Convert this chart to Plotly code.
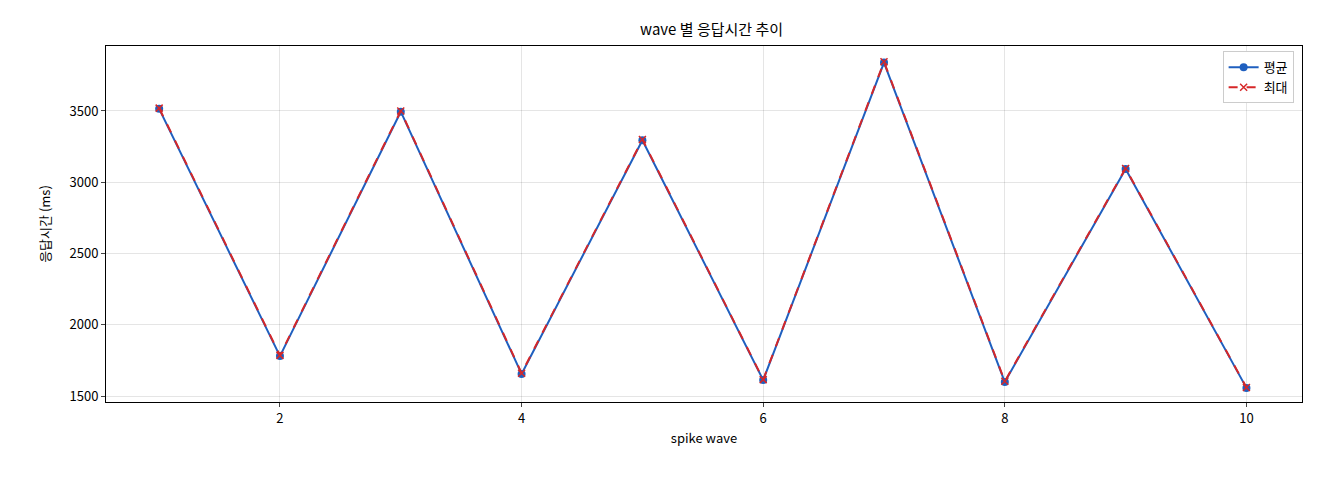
import plotly.graph_objects as go

waves = [1, 2, 3, 4, 5, 6, 7, 8, 9, 10]
avg_ms = [3515, 1780, 3495, 1655, 3295, 1612, 3840, 1598, 3093, 1557]
max_ms = [3520, 1785, 3500, 1660, 3300, 1615, 3845, 1603, 3097, 1560]

fig = go.Figure()
fig.add_trace(go.Scatter(x=waves, y=avg_ms, name="평균", mode="lines+markers",
                         line=dict(color="#1f5fbf", width=2), marker=dict(size=8, color="#1f5fbf")))
fig.add_trace(go.Scatter(x=waves, y=max_ms, name="최대", mode="lines+markers",
                         line=dict(color="#d62728", width=2, dash="dash"),
                         marker=dict(symbol="x-thin", size=7, color="#d62728", line=dict(width=1.5, color="#d62728"))))
ax = dict(showline=True, linecolor="black", mirror=True, ticks="outside", ticklen=4,
          gridcolor="rgba(0,0,0,0.1)", zeroline=False, tickfont=dict(size=13))
fig.update_layout(
    width=1320, height=480, plot_bgcolor="white", paper_bgcolor="white",
    font=dict(family="Noto Sans CJK KR, sans-serif", color="black", size=13),
    title=dict(text="wave 별 응답시간 추이", x=0.533, xanchor="center", y=0.955, yanchor="middle", font=dict(size=15)),
    margin=dict(l=98, r=26, t=38, b=86),
    xaxis=dict(ax, title=dict(text="spike wave", standoff=8, font=dict(size=13)), range=[0.56, 10.46], tickvals=[2, 4, 6, 8, 10]),
    yaxis=dict(ax, title=dict(text="응답시간 (ms)", font=dict(size=13)), range=[1458, 3956], tickvals=[1500, 2000, 2500, 3000, 3500]),
    legend=dict(x=0.993, y=0.985, xanchor="right", yanchor="top", bordercolor="#ccc", borderwidth=1,
                bgcolor="white"),
)
fig.write_html("out.html")
